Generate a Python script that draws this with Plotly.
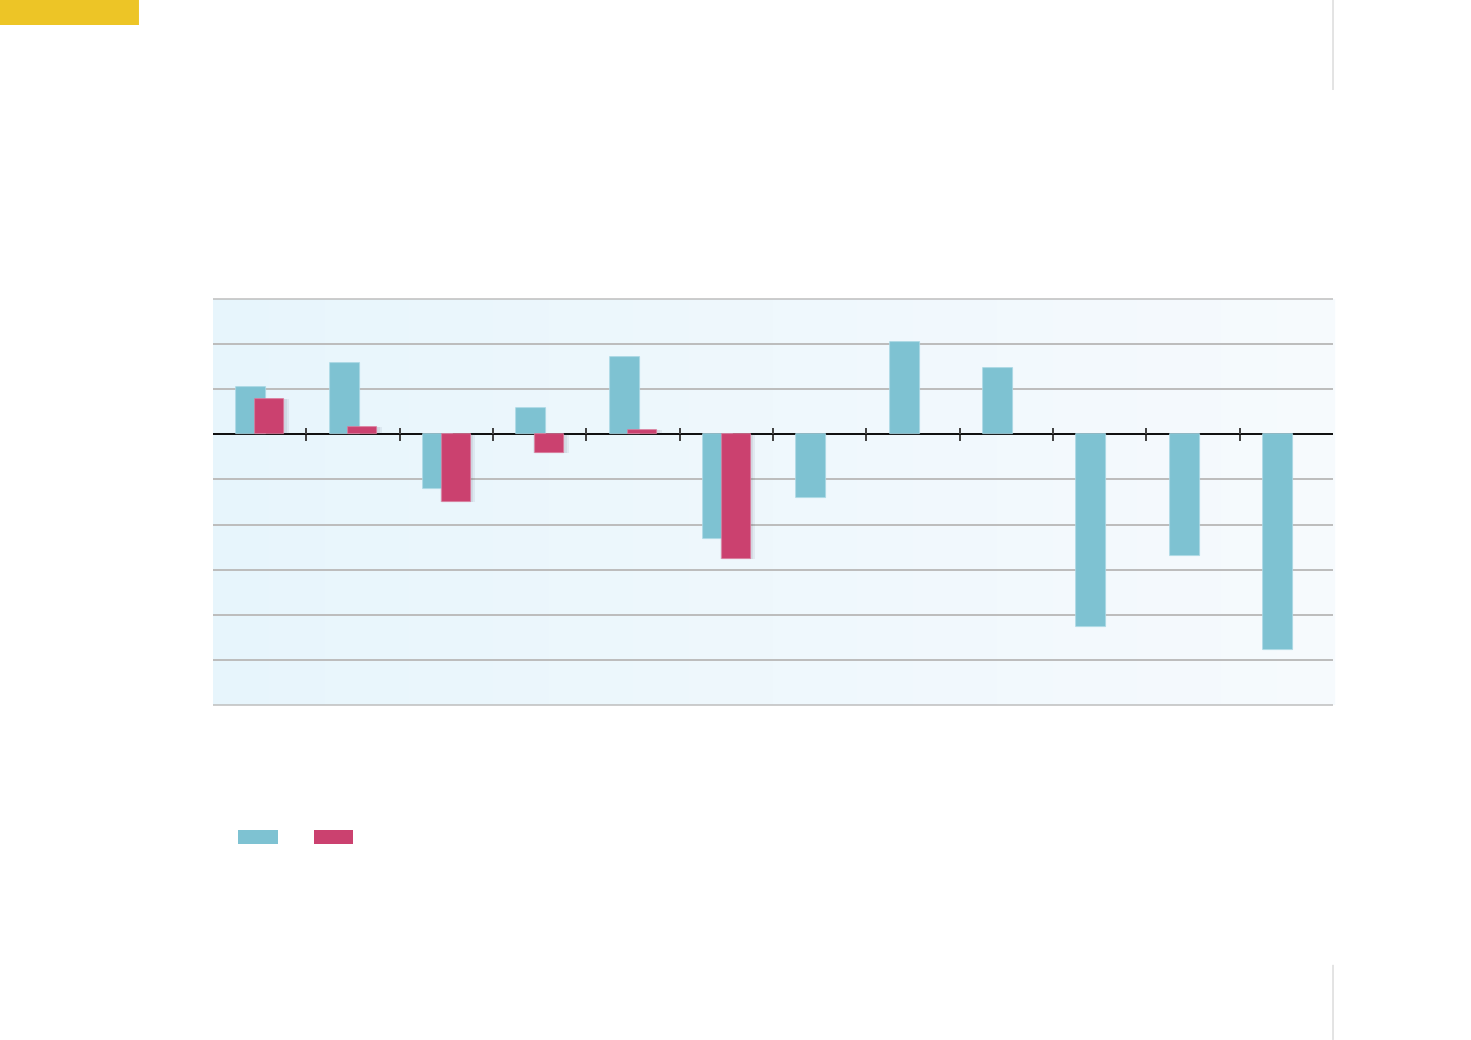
import plotly.graph_objects as go

# ---- data ----
categories = list(range(12))
teal_values = [1.04, 1.58, -1.22, 0.58, 1.71, -2.33, -1.42, 2.04, 1.47, -4.27, -2.69, -4.78]
pink_values = [0.78, 0.16, -1.49, -0.42, 0.09, -2.76, None, None, None, None, None, None]
y_ticks = [-6, -5, -4, -3, -2, -1, 0, 1, 2, 3]
boundaries = [0.5, 1.5, 2.5, 3.5, 4.5, 5.5, 6.5, 7.5, 8.5, 9.5, 10.5]

TEAL = "#7EC2D2"
PINK = "#CB416F"

fig = go.Figure()

# soft shadow under pink bars
fig.add_trace(go.Bar(
    x=categories, y=pink_values, width=0.38, offset=-0.07,
    marker=dict(color="rgba(60,60,80,0.07)", line=dict(width=0)),
    hoverinfo="skip", showlegend=False))
fig.add_trace(go.Bar(
    x=categories, y=pink_values, width=0.34, offset=-0.05,
    marker=dict(color="rgba(60,60,80,0.08)", line=dict(width=0)),
    hoverinfo="skip", showlegend=False))
fig.add_trace(go.Bar(
    x=categories, y=teal_values, width=0.32, offset=-0.25,
    marker=dict(color=TEAL, line=dict(width=0.8, color="#A9D8E3")),
    showlegend=False))
fig.add_trace(go.Bar(
    x=categories, y=pink_values, width=0.31, offset=-0.05,
    marker=dict(color=PINK, line=dict(width=0.8, color="#DA7C9C")),
    showlegend=False))

# background gradient strips (below gridlines)
shapes = []
n = 40
c0 = (231, 245, 252)
c1 = (246, 250, 253)
for i in range(n):
    t = i / (n - 1)
    col = tuple(round(c0[k] + (c1[k] - c0[k]) * t) for k in range(3))
    shapes.append(dict(type="rect", xref="paper", yref="paper",
                       x0=i / n, x1=(i + 1) / n + 0.002, y0=0, y1=1,
                       fillcolor="rgb(%d,%d,%d)" % col, line=dict(width=0), layer="below"))
# top / bottom frame lines
for yy in (0, 1):
    shapes.append(dict(type="line", xref="paper", yref="paper", x0=0, x1=1, y0=yy, y1=yy,
                       line=dict(color="#BDBDBD", width=1.5), layer="above"))
# decorative yellow tab
shapes.append(dict(type="rect", xref="paper", yref="paper",
                   x0=-0.1902, x1=-0.0661, y0=1.675, y1=1.7365,
                   fillcolor="#EDC526", line=dict(width=0)))
# right edge thin lines
shapes.append(dict(type="line", xref="paper", yref="paper", x0=1.0, x1=1.0, y0=1.5148, y1=1.7365,
                   line=dict(color="#C8C8C8", width=1)))
shapes.append(dict(type="line", xref="paper", yref="paper", x0=1.0, x1=1.0, y0=-0.825, y1=-0.640,
                   line=dict(color="#C8C8C8", width=1)))
# legend swatches (no text)
shapes.append(dict(type="rect", xref="paper", yref="paper",
                   x0=(238 - 213) / 1120, x1=(278 - 213) / 1120,
                   y0=(705 - 844) / 406, y1=(705 - 830) / 406,
                   fillcolor=TEAL, line=dict(width=0)))
shapes.append(dict(type="rect", xref="paper", yref="paper",
                   x0=(314 - 213) / 1120, x1=(353 - 213) / 1120,
                   y0=(705 - 844) / 406, y1=(705 - 830) / 406,
                   fillcolor=PINK, line=dict(width=0)))

fig.update_layout(
    width=1471, height=1040,
    margin=dict(l=213, r=138, t=299, b=335),
    paper_bgcolor="white", plot_bgcolor="rgba(0,0,0,0)",
    barmode="overlay", bargap=0,
    shapes=shapes,
    showlegend=False,
    hovermode=False,
    xaxis=dict(range=[-0.5, 11.5], tickvals=boundaries, ticktext=[""] * len(boundaries),
               ticks="inside", ticklen=6, tickwidth=1.5, tickcolor="#444",
               showgrid=False, zeroline=False, showline=False,
               anchor="free", position=6 / 9),
    xaxis2=dict(range=[-0.5, 11.5], overlaying="x", tickvals=boundaries, ticktext=[""] * len(boundaries),
                ticks="outside", ticklen=6, tickwidth=1.5, tickcolor="#444",
                showgrid=False, zeroline=False, showline=False,
                anchor="free", position=6 / 9, side="bottom"),
    yaxis=dict(range=[-6, 3], tickvals=y_ticks, showticklabels=False,
               showgrid=True, gridcolor="#BDBDBD", gridwidth=1.5,
               zeroline=True, zerolinecolor="#111", zerolinewidth=1.8,
               showline=False, ticks=""),
)
# dummy trace to activate xaxis2
fig.add_trace(go.Scatter(x=[None], y=[None], xaxis="x2", showlegend=False, hoverinfo="skip"))

fig.write_html("out.html", config={"displayModeBar": False},
               post_script="document.body.style.margin='0';")
